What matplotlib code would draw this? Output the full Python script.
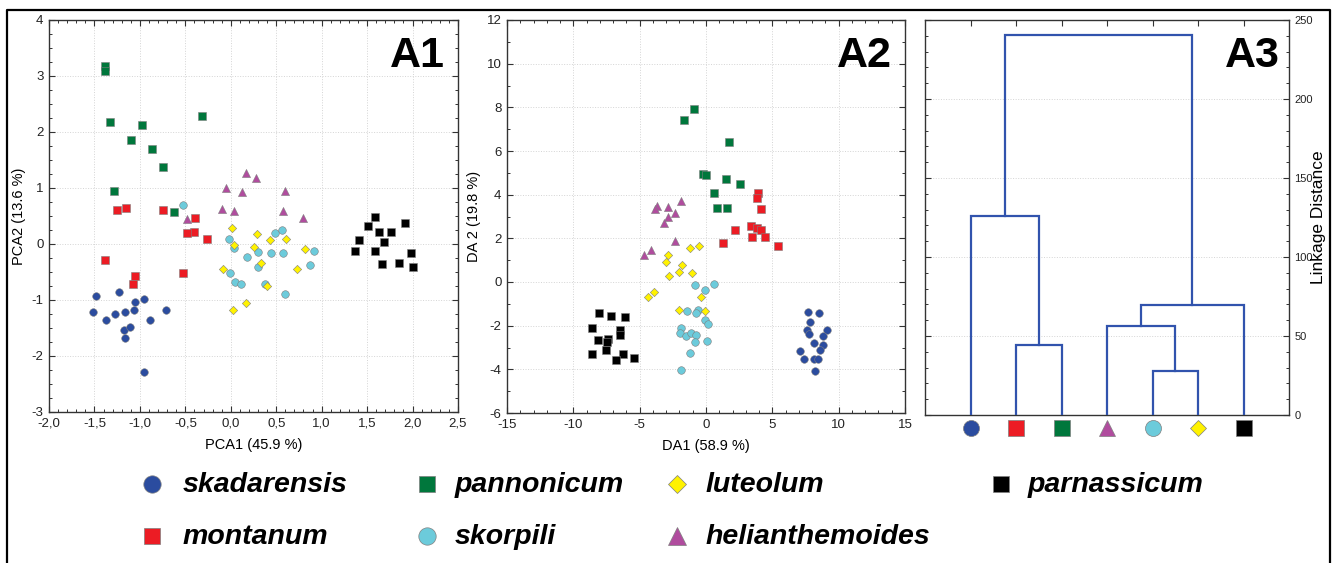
import numpy as np
import matplotlib
matplotlib.use('Agg')
import matplotlib.pyplot as plt
from matplotlib.lines import Line2D
from matplotlib.ticker import MultipleLocator
import matplotlib.transforms as mtransforms

plt.rcParams['font.family'] = ['Liberation Sans', 'DejaVu Sans']
plt.rcParams['axes.unicode_minus'] = False

# ---------------- data ----------------
SPECIES = ['skadarensis', 'montanum', 'pannonicum', 'helianthemoides',
           'skorpili', 'luteolum', 'parnassicum']

# A1 : PCA scores
PCA_SKADARENSIS_X = [-1.48, -1.52, -1.37, -1.27, -1.23, -1.16, -1.07, -1.05, -0.95, -1.18, -1.11, -1.16, -0.89, -0.71, -0.96]
PCA_SKADARENSIS_Y = [-0.93, -1.22, -1.36, -1.25, -0.86, -1.22, -1.18, -1.04, -0.98, -1.54, -1.49, -1.68, -1.36, -1.18, -2.28]
PCA_MONTANUM_X = [-1.25, -1.15, -0.75, -0.39, -0.41, -0.48, -0.26, -1.38, -1.05, -1.08, -0.53]
PCA_MONTANUM_Y = [0.61, 0.65, 0.60, 0.46, 0.22, 0.19, 0.09, -0.28, -0.58, -0.71, -0.52]
PCA_PANNONICUM_X = [-1.38, -1.38, -1.33, -0.98, -1.10, -0.87, -0.75, -0.32, -1.29, -0.62]
PCA_PANNONICUM_Y = [3.17, 3.09, 2.17, 2.13, 1.86, 1.70, 1.38, 2.29, 0.95, 0.57]
PCA_HELIANTHEMOIDES_X = [0.17, 0.28, -0.05, 0.12, 0.60, -0.10, 0.04, 0.57, 0.80, -0.48]
PCA_HELIANTHEMOIDES_Y = [1.27, 1.18, 1.00, 0.93, 0.95, 0.63, 0.59, 0.59, 0.47, 0.44]
PCA_SKORPILI_X = [-0.53, -0.02, 0.03, 0.18, 0.30, 0.44, 0.57, 0.49, 0.56, 0.92, 0.87, 0.30, -0.01, 0.05, 0.11, 0.38, 0.60]
PCA_SKORPILI_Y = [0.70, 0.09, -0.07, -0.23, -0.14, -0.16, -0.16, 0.19, 0.25, -0.12, -0.37, -0.41, -0.52, -0.68, -0.72, -0.71, -0.89]
PCA_LUTEOLUM_X = [0.01, 0.29, 0.43, 0.61, 0.03, 0.26, 0.82, 0.33, -0.09, 0.73, 0.40, 0.17, 0.02]
PCA_LUTEOLUM_Y = [0.29, 0.18, 0.07, 0.09, -0.02, -0.05, -0.09, -0.34, -0.44, -0.44, -0.75, -1.06, -1.18]
PCA_PARNASSICUM_X = [1.59, 1.51, 1.41, 1.63, 1.76, 1.92, 1.69, 1.37, 1.59, 1.98, 1.66, 1.85, 2.00]
PCA_PARNASSICUM_Y = [0.49, 0.32, 0.08, 0.21, 0.21, 0.38, 0.04, -0.12, -0.12, -0.16, -0.36, -0.34, -0.41]

# A2 : discriminant scores
DA_SKADARENSIS_X = [7.72, 8.50, 7.85, 7.60, 7.77, 9.10, 8.80, 8.15, 8.80, 8.58, 7.12, 7.42, 8.12, 8.45, 8.22]
DA_SKADARENSIS_Y = [-1.39, -1.44, -1.85, -2.19, -2.38, -2.19, -2.49, -2.81, -2.87, -3.13, -3.18, -3.53, -3.53, -3.53, -4.06]
DA_MONTANUM_X = [3.93, 3.83, 4.11, 3.40, 3.81, 4.13, 4.48, 3.48, 2.22, 1.27, 5.46]
DA_MONTANUM_Y = [4.08, 3.87, 3.34, 2.56, 2.47, 2.36, 2.07, 2.04, 2.39, 1.77, 1.64]
DA_PANNONICUM_X = [-0.92, -1.64, 1.77, -0.24, -0.01, 1.50, 2.60, 0.62, 0.82, 1.57]
DA_PANNONICUM_Y = [7.91, 7.41, 6.43, 4.94, 4.88, 4.74, 4.48, 4.08, 3.37, 3.41]
DA_HELIANTHEMOIDES_X = [-3.73, -3.88, -2.90, -1.90, -2.37, -2.90, -3.18, -2.30, -4.66, -4.15]
DA_HELIANTHEMOIDES_Y = [3.46, 3.35, 3.43, 3.73, 3.15, 3.00, 2.71, 1.90, 1.23, 1.48]
DA_SKORPILI_X = [-0.80, 0.63, -0.05, -1.45, -0.60, -0.75, -0.05, 0.16, -1.90, -1.95, -1.50, -1.10, -0.77, -0.84, 0.11, -1.17, -1.90]
DA_SKORPILI_Y = [-0.14, -0.10, -0.37, -1.35, -1.30, -1.44, -1.72, -1.91, -2.11, -2.34, -2.46, -2.34, -2.43, -2.74, -2.68, -3.25, -4.02]
DA_LUTEOLUM_X = [-1.22, -0.56, -2.90, -3.00, -1.82, -2.82, -2.07, -1.09, -0.34, -3.93, -4.36, -2.05, -0.11]
DA_LUTEOLUM_Y = [1.58, 1.63, 1.23, 0.91, 0.79, 0.29, 0.47, 0.42, -0.68, -0.46, -0.68, -1.30, -1.35]
DA_PARNASSICUM_X = [-8.10, -7.14, -6.11, -8.60, -6.46, -6.46, -7.37, -8.17, -7.47, -7.52, -8.60, -6.26, -6.79, -5.46]
DA_PARNASSICUM_Y = [-1.44, -1.56, -1.62, -2.11, -2.19, -2.43, -2.60, -2.67, -2.74, -3.13, -3.31, -3.30, -3.56, -3.48]

# A3 : dendrogram (leaf order left->right, merges as (child_a, child_b, height))
DENDRO_LEAVES = ['skadarensis', 'montanum', 'pannonicum', 'helianthemoides',
                 'skorpili', 'luteolum', 'parnassicum']
DENDRO_MERGES = [(1, 2, 44.1),    # node 7
                 (4, 5, 28.1),    # node 8
                 (3, 8, 56.1),    # node 9
                 (9, 6, 69.4),    # node 10
                 (0, 7, 126.0),   # node 11
                 (11, 10, 240.7)] # node 12

A1_XTICKS = [-2.0, -1.5, -1.0, -0.5, 0.0, 0.5, 1.0, 1.5, 2.0, 2.5]
A1_XTICKLABELS = ['-2,0', '-1,5', '-1,0', '-0,5', '0,0', '0,5', '1,0', '1,5', '2,0', '2,5']
A1_YTICKS = [-3, -2, -1, 0, 1, 2, 3, 4]
A2_XTICKS = [-15, -10, -5, 0, 5, 10, 15]
A2_YTICKS = [-6, -4, -2, 0, 2, 4, 6, 8, 10, 12]
A3_YTICKS = [0, 50, 100, 150, 200, 250]

# ---------------- styles ----------------
COLORS = {'skadarensis': '#2b4c9f', 'montanum': '#ec1c24', 'pannonicum': '#00773c',
          'helianthemoides': '#b04c9e', 'skorpili': '#6ccbdb', 'luteolum': '#fff200',
          'parnassicum': '#000000'}
MARKERS = {'skadarensis': 'o', 'montanum': 's', 'pannonicum': 's',
           'helianthemoides': '^', 'skorpili': 'o', 'luteolum': 'D', 'parnassicum': 's'}
SCAT_S = {'o': 30, 's': 28, '^': 34, 'D': 18}
BIG_MS = {'o': 11.5, 's': 11.0, '^': 11.5, 'D': 8.2}
LEG_MS = {'o': 12.5, 's': 11.5, '^': 12.5, 'D': 9.0}

W, H, DPI = 1332, 563, 100
fig = plt.figure(figsize=(W / DPI, H / DPI), dpi=DPI)

SPINE_C = '#333333'
GRID_KW = dict(color='#d4d4d4', linestyle=':', linewidth=0.7)


def style_axes(ax, labelsize=9.5):
    for s in ax.spines.values():
        s.set_color(SPINE_C)
        s.set_linewidth(1.0)
    ax.tick_params(which='both', direction='in', top=True, right=True,
                   colors=SPINE_C, labelcolor='#222222', labelsize=labelsize, pad=4)
    ax.tick_params(which='major', length=4, width=0.8)
    ax.tick_params(which='minor', length=2, width=0.7)
    ax.set_axisbelow(True)


def scatter_panel(ax, data):
    for sp in SPECIES:
        xs, ys = data[sp]
        m = MARKERS[sp]
        ax.scatter(xs, ys, s=SCAT_S[m], marker=m, c=COLORS[sp],
                   edgecolors='#7f7f7f', linewidths=0.4, zorder=3)


# ---- A1 ----
ax1 = fig.add_axes([49 / W, 1 - 412 / H, 409 / W, 392 / H])
style_axes(ax1)
scatter_panel(ax1, {
    'skadarensis': (PCA_SKADARENSIS_X, PCA_SKADARENSIS_Y),
    'montanum': (PCA_MONTANUM_X, PCA_MONTANUM_Y),
    'pannonicum': (PCA_PANNONICUM_X, PCA_PANNONICUM_Y),
    'helianthemoides': (PCA_HELIANTHEMOIDES_X, PCA_HELIANTHEMOIDES_Y),
    'skorpili': (PCA_SKORPILI_X, PCA_SKORPILI_Y),
    'luteolum': (PCA_LUTEOLUM_X, PCA_LUTEOLUM_Y),
    'parnassicum': (PCA_PARNASSICUM_X, PCA_PARNASSICUM_Y)})
ax1.set_xlim(-2, 2.5)
ax1.set_ylim(-3, 4)
ax1.set_xticks(A1_XTICKS)
ax1.set_xticklabels(A1_XTICKLABELS)
ax1.set_yticks(A1_YTICKS)
ax1.xaxis.set_minor_locator(MultipleLocator(0.1))
ax1.yaxis.set_minor_locator(MultipleLocator(0.25))
ax1.grid(True, which='major', **GRID_KW)
ax1.set_xlabel('PCA1 (45.9 %)', fontsize=10.5, labelpad=6)
ax1.set_ylabel('PCA2 (13.6 %)', fontsize=10.5, labelpad=4)
ax1.text(0.968, 0.880, 'A1', transform=ax1.transAxes, ha='right', va='baseline',
         fontsize=31, fontweight='bold')

# ---- A2 ----
ax2 = fig.add_axes([507 / W, 1 - 413 / H, 398 / W, 393 / H])
style_axes(ax2)
scatter_panel(ax2, {
    'skadarensis': (DA_SKADARENSIS_X, DA_SKADARENSIS_Y),
    'montanum': (DA_MONTANUM_X, DA_MONTANUM_Y),
    'pannonicum': (DA_PANNONICUM_X, DA_PANNONICUM_Y),
    'helianthemoides': (DA_HELIANTHEMOIDES_X, DA_HELIANTHEMOIDES_Y),
    'skorpili': (DA_SKORPILI_X, DA_SKORPILI_Y),
    'luteolum': (DA_LUTEOLUM_X, DA_LUTEOLUM_Y),
    'parnassicum': (DA_PARNASSICUM_X, DA_PARNASSICUM_Y)})
ax2.set_xlim(-15, 15)
ax2.set_ylim(-6, 12)
ax2.set_xticks(A2_XTICKS)
ax2.set_yticks(A2_YTICKS)
ax2.xaxis.set_minor_locator(MultipleLocator(1))
ax2.yaxis.set_minor_locator(MultipleLocator(1))
ax2.grid(True, which='major', **GRID_KW)
ax2.set_xlabel('DA1 (58.9 %)', fontsize=10.5, labelpad=6)
ax2.set_ylabel('DA 2 (19.8 %)', fontsize=10.5, labelpad=4)
ax2.text(0.967, 0.880, 'A2', transform=ax2.transAxes, ha='right', va='baseline',
         fontsize=31, fontweight='bold')

# ---- A3 ----
ax3 = fig.add_axes([925 / W, 1 - 415 / H, 364 / W, 395 / H])
style_axes(ax3, labelsize=8)
n_leaves = len(DENDRO_LEAVES)
leaf_x = np.arange(1, n_leaves + 1)
node_x = list(leaf_x.astype(float))
node_h = [0.0] * n_leaves
DCOL = '#3153ad'
for a, b, h in DENDRO_MERGES:
    xa, xb = node_x[a], node_x[b]
    ax3.plot([xa, xa, xb, xb], [node_h[a], h, h, node_h[b]], color=DCOL,
             lw=1.6, solid_joinstyle='miter', zorder=3)
    node_x.append((xa + xb) / 2)
    node_h.append(h)
ax3.set_xlim(0, n_leaves + 1)
ax3.set_ylim(0, 250)
ax3.set_xticks(leaf_x)
ax3.tick_params(axis='x', which='both', bottom=False, top=True, labelbottom=False)
ax3.set_yticks(A3_YTICKS)
ax3.yaxis.set_minor_locator(MultipleLocator(10))
ax3.tick_params(axis='y', which='both', left=True, right=True,
                labelleft=False, labelright=True)
ax3.yaxis.set_label_position('right')
ax3.set_ylabel('Linkage Distance', fontsize=12.5, labelpad=-1.5)
ax3.grid(True, axis='y', which='major', **GRID_KW)
ax3.text(0.975, 0.881, 'A3', transform=ax3.transAxes, ha='right', va='baseline',
         fontsize=31, fontweight='bold')
trans3 = mtransforms.blended_transform_factory(ax3.transData, ax3.transAxes)
for xv, sp in zip(leaf_x, DENDRO_LEAVES):
    m = MARKERS[sp]
    ax3.plot([xv], [-0.034], marker=m, ms=BIG_MS[m], color=COLORS[sp],
             mec='#7f7f7f', mew=0.5, transform=trans3, clip_on=False, ls='none')

# ---- legend (free layout in pixel space) ----
lax = fig.add_axes([0, 0, 1, 1])
lax.set_xlim(0, W)
lax.set_ylim(H, 0)
lax.axis('off')
LEGEND_LAYOUT = [  # (species, marker_x, text_x, row)
    ('skadarensis', 152, 183, 0), ('montanum', 152, 183, 1),
    ('pannonicum', 427, 455, 0), ('skorpili', 427, 455, 1),
    ('luteolum', 677, 706, 0), ('helianthemoides', 677, 706, 1),
    ('parnassicum', 1001, 1028, 0)]
ROW_MARK_Y = [484, 536]
ROW_BASE_Y = [492, 544]
for sp, mx, tx, row in LEGEND_LAYOUT:
    m = MARKERS[sp]
    lax.plot([mx], [ROW_MARK_Y[row]], marker=m, ms=LEG_MS[m], color=COLORS[sp],
             mec='#7f7f7f', mew=0.5, ls='none')
    lax.text(tx, ROW_BASE_Y[row], sp, fontsize=20.5, fontweight='bold',
             fontstyle='italic', ha='left', va='baseline')

# ---- outer frame ----
fig.add_artist(Line2D([7 / W, 7 / W, 1330 / W, 1330 / W],
                      [0, 1 - 10 / H, 1 - 10 / H, 0],
                      transform=fig.transFigure, color='black', lw=1.6))

fig.savefig('out.png', dpi=DPI)
